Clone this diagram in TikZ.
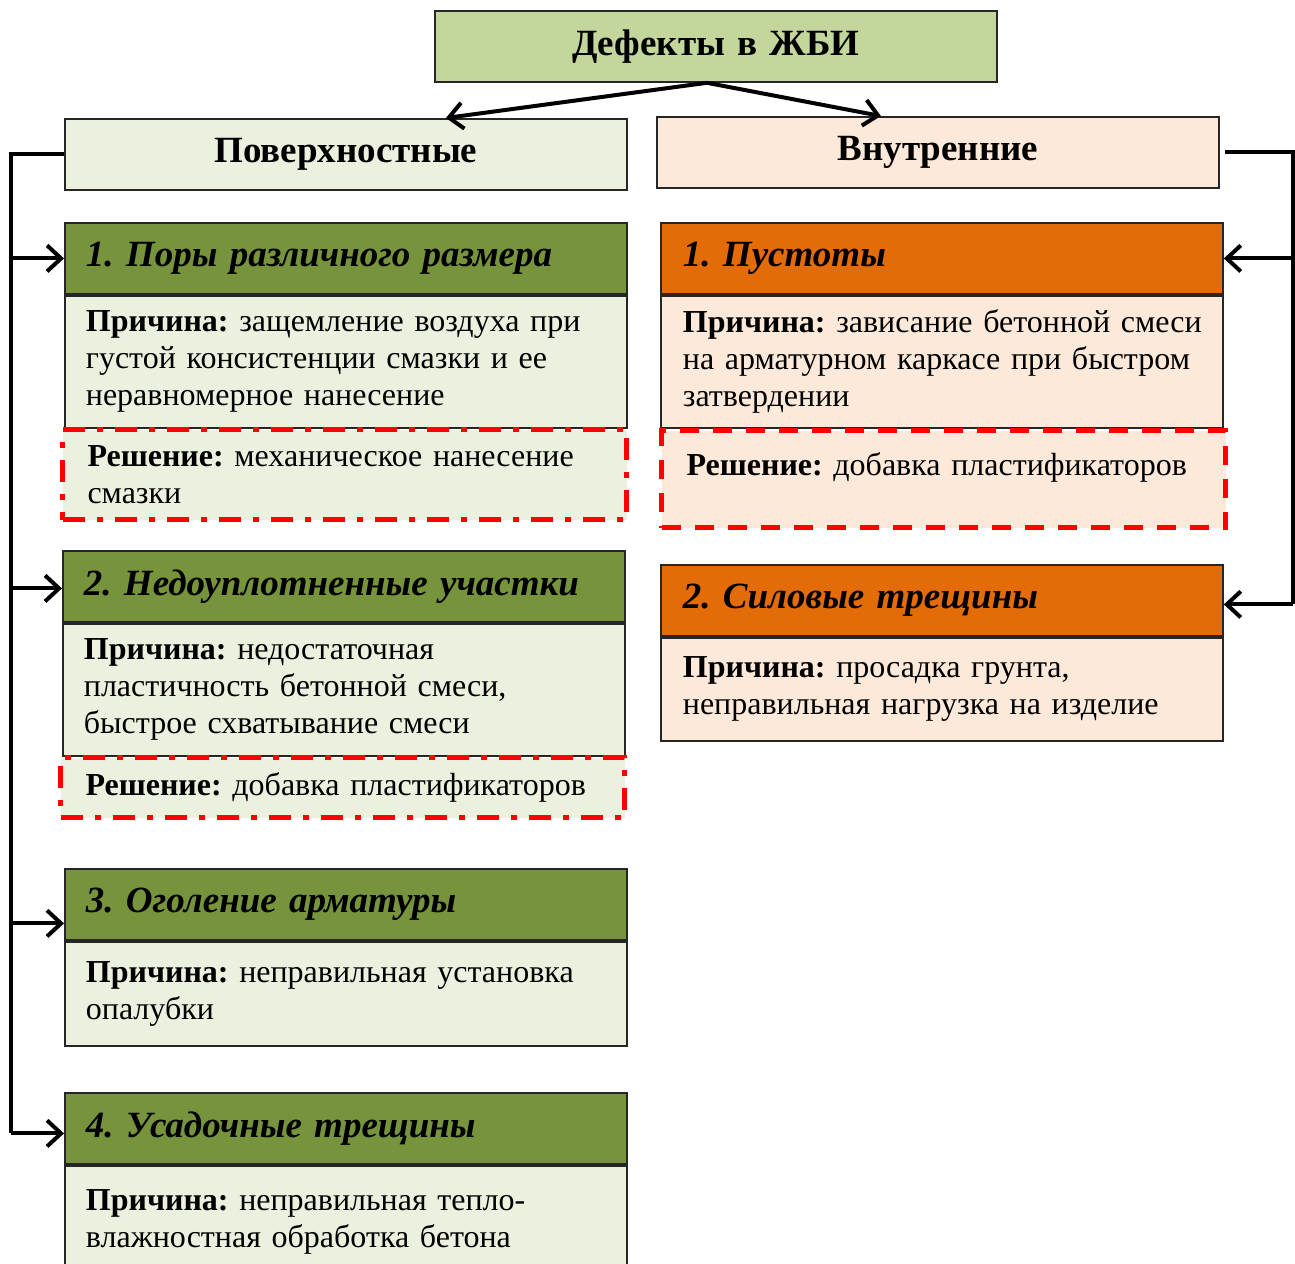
\documentclass[tikz,border=0pt]{standalone}
\usepackage{fontspec}
\setmainfont{Liberation Serif}
\usetikzlibrary{arrows.meta}
\definecolor{titlegreen}{HTML}{C3D69B}
\definecolor{palegreen}{HTML}{EBF1DE}
\definecolor{olive}{HTML}{77933C}
\definecolor{rust}{HTML}{E36C09}
\definecolor{peach}{HTML}{FDE9D9}
\definecolor{redline}{HTML}{FF0000}
\frenchspacing
\tikzset{
  cell/.style={rectangle, draw=black!85, line width=1.8pt, anchor=north west,
    minimum width=562pt, inner xsep=21pt, inner ysep=0pt, text width=520pt,
    align=left, font=\fontsize{32}{37}\selectfont\frenchspacing},
  head/.style={cell, minimum height=71pt, font=\fontsize{37}{42}\selectfont\bfseries\itshape\frenchspacing},
  group/.style={cell, minimum height=71pt, align=center, font=\fontsize{37}{42}\selectfont\bfseries},
  fix/.style={cell, draw=redline, line width=5pt, minimum width=564pt, inner xsep=25pt, text width=514pt},
  dashdot/.style={dash pattern=on 22pt off 12pt on 6pt off 12pt},
  dash only/.style={dash pattern=on 19pt off 14pt},
  trunk/.style={line width=4pt},
  link/.style={line width=4pt, -{Straight Barb[length=14pt,width=26pt]}},
}
\begin{document}
\begin{tikzpicture}[x=1pt,y=-1pt]
  \useasboundingbox (0,0) rectangle (1295,1263);
  % top level
  \node[group, fill=titlegreen, font=\fontsize{37}{42}\selectfont\bfseries] (root) at (434,10) {Дефекты в ЖБИ};
  \node[group, fill=palegreen] (surf) at (64,118) {Поверхностные};
  \node[group, fill=peach] (inner) at (656,116) {Внутренние};
  \draw[link] ([xshift=-9pt]root.south) -- ([xshift=100pt]surf.north);
  \draw[link] ([xshift=-9pt]root.south) -- ([xshift=-57pt]inner.north);
  % surface defects
  \node[head, fill=olive] (s1) at (64,222) {1. Поры различного размера};
  \node[cell, fill=palegreen, minimum height=132pt] (s1c) at (s1.south west)
    {\textbf{Причина:} защемление воздуха при\\густой консистенции смазки и ее\\неравномерное нанесение};
  \node[fix, dashdot, fill=palegreen, minimum height=90pt] (s1f) at (60,427)
    {\textbf{Решение:} механическое нанесение\\смазки};
  \node[head, fill=olive] (s2) at (62,550) {2. Недоуплотненные участки};
  \node[cell, fill=palegreen, minimum height=132pt] (s2c) at (s2.south west)
    {\textbf{Причина:} недостаточная\\пластичность бетонной смеси,\\быстрое схватывание смеси};
  \node[fix, dashdot, fill=palegreen, minimum height=60pt] (s2f) at (58,755)
    {\textbf{Решение:} добавка пластификаторов};
  \node[head, fill=olive] (s3) at (64,868) {3. Оголение арматуры};
  \node[cell, fill=palegreen, minimum height=104pt] (s3c) at (s3.south west)
    {\textbf{Причина:} неправильная установка\\опалубки};
  \node[head, fill=olive] (s4) at (64,1092) {4. Усадочные трещины};
  \node[cell, fill=palegreen, minimum height=112pt] (s4c) at (s4.south west)
    {\textbf{Причина:} неправильная тепло-\\влажностная обработка бетона};
  % internal defects
  \node[head, fill=rust, inner xsep=22pt, text width=518pt] (i1) at (660,222) {1. Пустоты};
  \node[cell, fill=peach, minimum height=132pt, inner xsep=22pt, text width=518pt] (i1c) at (i1.south west)
    {\mbox{\textbf{Причина:} зависание бетонной смеси}\\на арматурном каркасе при быстром\\затвердении};
  \node[fix, dash only, fill=peach, minimum height=97pt, text depth=29pt] (i1f) at (659,428)
    {\textbf{Решение:} добавка пластификаторов};
  \node[head, fill=rust, inner xsep=22pt, text width=518pt] (i2) at (660,564) {2. Силовые трещины};
  \node[cell, fill=peach, minimum height=103pt, inner xsep=22pt, text width=518pt] (i2c) at (i2.south west)
    {\textbf{Причина:} просадка грунта,\\неправильная нагрузка на изделие};
  % connectors
  \coordinate (lt) at (11,0);
  \coordinate (rt) at (1293,0);
  \draw[trunk] (surf.west) -- (surf.west -| lt) -- ([yshift=-5pt]s4.west -| lt);
  \draw[link] ([yshift=0pt]s1.west -| lt) -- ([yshift=0pt]s1.west);
  \draw[link] ([yshift=-2pt]s2.west -| lt) -- ([yshift=-2pt]s2.west);
  \draw[link] ([yshift=-19pt]s3.west -| lt) -- ([yshift=-19pt]s3.west);
  \draw[link] ([yshift=-5pt]s4.west -| lt) -- ([yshift=-5pt]s4.west);
  \draw[trunk] ([xshift=5pt]inner.east) -- (inner.east -| rt) -- ([yshift=-4pt]i2.east -| rt);
  \draw[link] (i1.east -| rt) -- (i1.east);
  \draw[link] ([yshift=-4pt]i2.east -| rt) -- ([yshift=-4pt]i2.east);
\end{tikzpicture}
\end{document}
